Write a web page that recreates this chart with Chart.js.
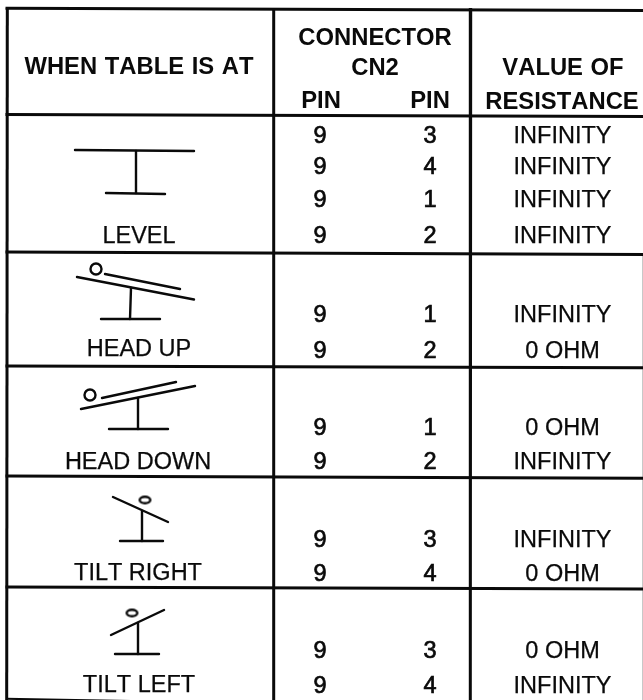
<!DOCTYPE html>
<html><head><meta charset="utf-8">
<style>html,body{margin:0;padding:0;background:#fff}canvas{display:block}</style>
<script src="https://cdn.jsdelivr.net/npm/chart.js@4"></script></head>
<body><canvas id="c" width="643" height="700"></canvas>
<script>
const tableStates=["LEVEL","HEAD UP","HEAD DOWN","TILT RIGHT","TILT LEFT"];
const stateBaselineY=[243.3,356,469.3,580,691.7];
const stateCentreX=[139,139,138,138,139];
const pinFrom=["9","9","9","9","9","9","9","9","9","9","9","9"];
const pinTo=["3","4","1","2","1","2","1","2","3","4","3","4"];
const resistance=["INFINITY","INFINITY","INFINITY","INFINITY","INFINITY","0 OHM","0 OHM","INFINITY","INFINITY","0 OHM","0 OHM","INFINITY"];
const pinBaselineY=[142.5,174,206.5,243,322.3,357.7,435,469.3,546.7,581,658.3,692.7];
const headers=[["WHEN TABLE IS AT",139,74],["CONNECTOR",375,45],["CN2",375,75],["PIN",321,108.3],["PIN",430,108.3],["VALUE OF",563,75],["RESISTANCE",562,109]];
const rulesLeftY=[8.3,114.5,252,366,476,587];
const rulesRightY=[10.5,116.5,254.5,367.7,478.3,589];
const bottomRule=[[6,698.8],[643,710]];
const faintRightEdge=[[642.5,255],[642.5,700]];
const verticalRules=[[7.3,6.7],[273.7,273.7],[470.7,470.3]];
const iconStrokes=[
 [[75,150],[194,151]],[[136,151],[136,193]],[[106,193],[165,194]],
 [[77,277],[194,299.5]],[[105,274],[180,289]],[[131,288],[130,319]],[[101,319],[160,319]],
 [[81,409],[195,386]],[[102,398],[176,382]],[[138,398],[138,429]],[[109,429],[168,429]],
 [[113,497],[168,522]],[[142,511],[142,541]],[[120,541],[163,541]],
 [[111,635],[164,610]],[[138,623],[138,654]],[[115,654],[159,654]]
];
const ballCentres=[[96,269],[90,395]];
const flatBallCentres=[[145,500],[132,613]];

const ink='#0a0a0a';
function ellipseStyle(rx,ry){const s=document.createElement('canvas');s.width=Math.ceil(2*rx)+4;s.height=Math.ceil(2*ry)+4;
 const g=s.getContext('2d');g.strokeStyle=ink;g.lineWidth=2.4;g.beginPath();g.ellipse(s.width/2,s.height/2,rx,ry,0,0,Math.PI*2);g.stroke();return s;}
const lineSet=(pts,w,col)=>({type:'scatter',data:pts.map(p=>({x:p[0],y:p[1]})),showLine:true,borderColor:col||ink,borderWidth:w,pointRadius:0,borderCapStyle:'butt',tension:0,fill:false});
const datasets=[];
rulesLeftY.forEach((y,i)=>datasets.push(lineSet([[5.5,y],[643,rulesRightY[i]]],3)));
datasets.push(lineSet(bottomRule,2));
datasets.push(lineSet(faintRightEdge,1,'#c8c8c8'));
verticalRules.forEach(v=>datasets.push(lineSet([[v[0],8],[v[1],700]],3)));
iconStrokes.forEach(s=>datasets.push(Object.assign(lineSet(s,2.4),{borderCapStyle:'round'})));
datasets.push({type:'scatter',data:ballCentres.map(p=>({x:p[0],y:p[1]})),pointStyle:'circle',pointRadius:5.5,pointBorderWidth:2.4,pointBorderColor:ink,pointBackgroundColor:'#fff'});
datasets.push({type:'scatter',data:flatBallCentres.map(p=>({x:p[0],y:p[1]})),pointStyle:ellipseStyle(5.3,3.3)});

const textPlugin={id:'tableText',afterDatasetsDraw(ch){
 const c=ch.ctx,X=ch.scales.x,Y=ch.scales.y;
 c.save();c.fillStyle=ink;c.strokeStyle=ink;c.textAlign='center';c.textBaseline='alphabetic';c.fontKerning='none';
 const put=(t,x,y,thick)=>{const px=X.getPixelForValue(x),py=Y.getPixelForValue(y);c.fillText(t,px,py);
   if(thick){c.lineWidth=thick;c.strokeText(t,px,py);}};
 c.font='bold 23.8px "Liberation Sans"';
 c.wordSpacing='1px';
 headers.forEach(h=>put(h[0],h[1],h[2]));
 c.wordSpacing='0px';
 c.font='23.5px "Liberation Sans"';
 tableStates.forEach((t,i)=>put(t,stateCentreX[i],stateBaselineY[i],0.25));
 resistance.forEach((t,i)=>put(t,562.5,pinBaselineY[i],0.25));
 pinFrom.forEach((t,i)=>put(t,320,pinBaselineY[i],0.7));
 pinTo.forEach((t,i)=>put(t,430,pinBaselineY[i],0.7));
 c.restore();
}};
new Chart(document.getElementById('c'),{type:'scatter',data:{datasets},plugins:[textPlugin],options:{
 responsive:false,animation:false,events:[],layout:{padding:0,autoPadding:false},
 plugins:{legend:{display:false},tooltip:{enabled:false},title:{display:false}},
 scales:{x:{type:'linear',display:false,min:0,max:643},y:{type:'linear',display:false,min:0,max:700,reverse:true}}
}});
</script></body></html>
